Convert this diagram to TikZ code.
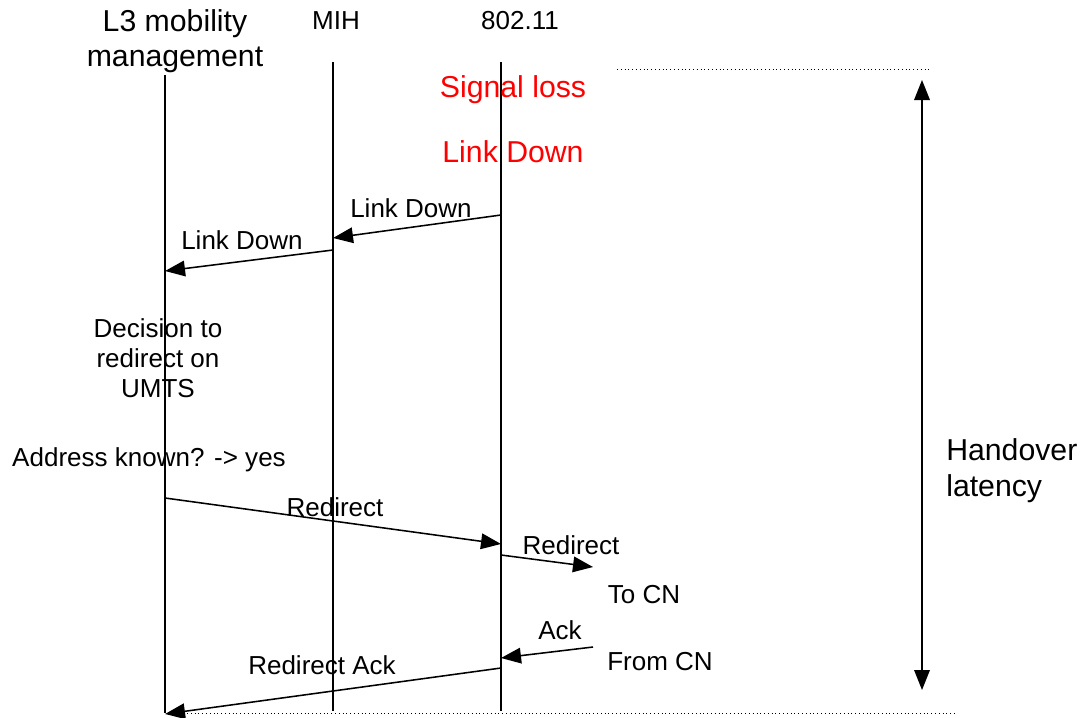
\documentclass[tikz,border=0pt]{standalone}
\usepackage{fontspec}
\setmainfont{Liberation Sans}
\usepackage{tikz}
\usetikzlibrary{arrows.meta}

\begin{document}
\begin{tikzpicture}[x=0.025cm, y=-0.025cm,
		msg/.style={line width=1.1pt, -{Triangle[length=5mm, width=3.9mm]}},
		lifeline/.style={line width=1.1pt},
		lbl/.style={font=\fontsize{18.5}{21}\selectfont, inner sep=0pt},
		big/.style={font=\fontsize{21.5}{24}\selectfont, inner sep=0pt},
		note/.style={lbl, align=center},
		event/.style={big, text=red}]
	
	\useasboundingbox (0,0) rectangle (1083,717);
	
	% Headers
	\node[big, align=center, font=\fontsize{21.5}{24.5}\selectfont] (l3) at (175,41) {L3 mobility\\management};
	\node[lbl] (mih) at (336,21) {MIH};
	\node[lbl] (wifi) at (520,21) {802.11};
	
	% Lifelines
	\coordinate (l3top) at (165,75);  \coordinate (l3bot) at (165,713);
	\coordinate (mihtop) at (333,62); \coordinate (mihbot) at (333,711);
	\coordinate (wifitop) at (501,62); \coordinate (wifibot) at (501,711);
	\draw[lifeline] (l3top) -- (l3bot);
	\draw[lifeline] (mihtop) -- (mihbot);
	\draw[lifeline] (wifitop) -- (wifibot);
	
	% Events on the 802.11 side
	\node[event] (loss) at (513,90) {Signal loss};
	\node[event] (down) at (513,152) {Link Down};
	
	% Link Down indications
	\coordinate (ld1a) at (501,215); \coordinate (ld1b) at (333,238);
	\draw[msg] (ld1a) -- (ld1b);
	\node[lbl] (ld1lbl) at (411,208) {Link Down};
	\coordinate (ld2a) at (333,250); \coordinate (ld2b) at (165,271);
	\draw[msg] (ld2a) -- (ld2b);
	\node[lbl] (ld2lbl) at (242,240) {Link Down};
	
	% Decision at L3
	\node[note, font=\fontsize{18.5}{21.5}\selectfont] (decision) at (158,358) {Decision to\\redirect on\\UMTS};
	\node[lbl] (addr) at (149,460) {Address known? -> yes};
	
	% Redirect towards the CN
	\coordinate (r1a) at (165,498); \coordinate (r1b) at (501,544);
	\draw[msg] (r1a) -- (r1b);
	\node[lbl] (r1lbl) at (335,507) {Redirect};
	\coordinate (r2a) at (501,555); \coordinate (r2b) at (593,567);
	\draw[msg] (r2a) -- (r2b);
	\node[lbl] (r2lbl) at (571,545) {Redirect};
	\node[lbl] (tocn) at (644,595) {To CN};
	
	% Ack back from the CN
	\coordinate (acka) at (593,647); \coordinate (ackb) at (501,658);
	\draw[msg] (acka) -- (ackb);
	\node[lbl] (acklbl) at (560,630) {Ack};
	\node[lbl] (fromcn) at (660,662) {From CN};
	\coordinate (raa) at (501,668); \coordinate (rab) at (165,714);
	\draw[msg] (raa) -- (rab);
	\node[lbl] (ralbl) at (322,665) {Redirect Ack};
	
	% Latency window
	\coordinate (t0a) at (617,69); \coordinate (t0b) at (930,69);
	\draw[dotted, line width=0.7pt] (t0a) -- (t0b);
	\coordinate (t1a) at (168,713); \coordinate (t1b) at (955,713);
	\draw[dotted, line width=0.7pt] (t1a) -- (t1b);
	\coordinate (lat0) at (922,80); \coordinate (lat1) at (922,690);
	\draw[lifeline, {Triangle[length=5mm, width=3.9mm]}-{Triangle[length=5mm, width=3.9mm]}] (lat0) -- (lat1);
	\node[big, align=left, anchor=west, font=\fontsize{21.5}{25.5}\selectfont] (latency) at (946,471) {Handover\\latency};
	
\end{tikzpicture}
\end{document}
